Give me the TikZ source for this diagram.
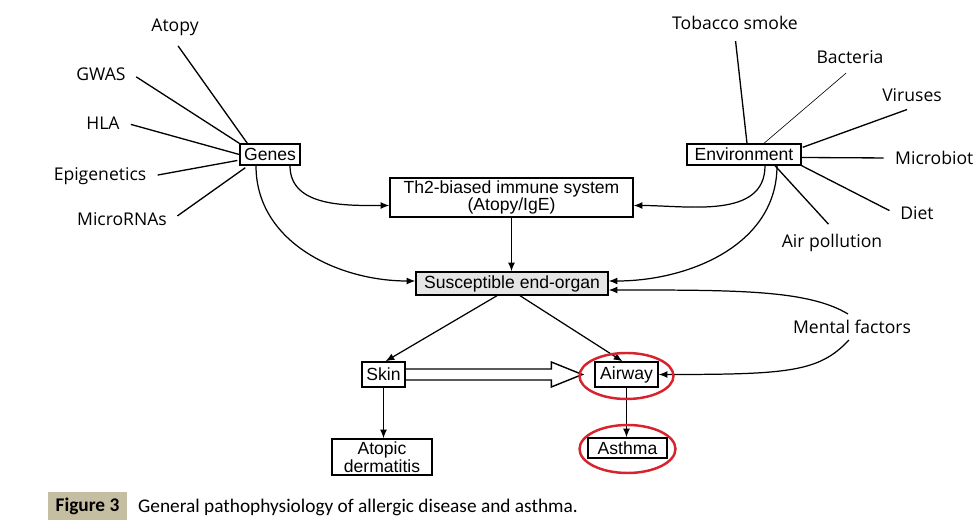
\documentclass[tikz,border=0pt]{standalone}
\usepackage{fontspec}
\setmainfont{Open Sans}
\newfontfamily\boxfont{Liberation Sans}
\newfontfamily\capfont{Carlito}
\usetikzlibrary{arrows.meta,calc}
\definecolor{captan}{RGB}{198,190,162}
\definecolor{ringred}{RGB}{214,35,45}

\begin{document}
\begin{tikzpicture}[x=0.02cm,y=-0.02cm]

	\tikzset{factor/.style={font=\fontsize{10}{12}\selectfont},
		block/.style={draw,line width=0.8pt,inner sep=0pt,align=center,
			font=\boxfont\fontsize{10}{10}\selectfont},
		leaf/.style={line width=0.75pt,shorten <=3pt},
		arr/.style={line width=0.7pt,-{Latex[length=5pt,width=4pt]}},
		redring/.style={draw=ringred,line width=1.4pt}}
	\useasboundingbox (0,0) rectangle (974,526);

	% boxes
	\node[block,minimum width=1.2cm,minimum height=0.42cm] (genes) at (270,154.5) {Genes};
	\node[block,minimum width=2.28cm,minimum height=0.42cm] (env) at (744,154.5) {Environment};
	\node[block,minimum width=4.86cm,minimum height=0.78cm] (th2) at (511.5,197.5) {Th2-biased immune system\\(Atopy/IgE)};
	\node[block,fill=gray!20,minimum width=3.84cm,minimum height=0.46cm] (susc) at (512,283.5) {Susceptible end-organ};
	\node[block,minimum width=0.86cm,minimum height=0.5cm] (skin) at (383.5,374.5) {Skin};
	\node[block,minimum width=1.26cm,minimum height=0.5cm] (airway) at (626.5,374.5) {Airway};
	\node[block,minimum width=2cm,minimum height=0.72cm] (atopicd) at (382,457) {Atopic\\dermatitis};
	\node[block,minimum width=1.58cm,minimum height=0.4cm] (asthma) at (627.5,448) {Asthma};

	% genetic factors
	\node[factor] (atopy) at (175,27) {Atopy};
	\node[factor] (gwas) at (101,74) {GWAS};
	\node[factor] (hla) at (103,123) {HLA};
	\node[factor] (epigen) at (100,176) {Epigenetics};
	\node[factor] (mirna) at (122,219) {MicroRNAs};
	\draw[leaf] (atopy.south) -- ($(genes.north west)+(8,0)$);
	\draw[leaf] (gwas.east) -- (genes.north west);
	\draw[leaf] (hla.east) -- (genes.west);
	\draw[leaf] (epigen.east) -- ($(genes.west)+(-2,6)$);
	\draw[leaf] (mirna.east) -- ($(genes.south west)+(6,2)$);

	% environmental factors
	\node[factor] (tobacco) at (735,23) {Tobacco smoke};
	\node[factor] (bacteria) at (850,57) {Bacteria};
	\node[factor] (viruses) at (912,95) {Viruses};
	\node[factor,anchor=west] (microbiota) at (889,158) {Microbiot};
	\node[factor] (diet) at (917,213) {Diet};
	\node[factor] (airpol) at (832,243) {Air pollution};
	\draw[leaf] (tobacco.south) -- ($(env.north)+(3,0)$);
	\draw[leaf,line width=0.35pt] (bacteria.south) -- ($(env.north)+(20,0)$);
	\draw[leaf] (viruses.south) -- ($(env.north east)+(1,4)$);
	\draw[leaf] (microbiota.west) -- ($(env.east)+(0,3)$);
	\draw[leaf] (diet.west) -- (env.south east);
	\draw[leaf] (airpol.north) -- ($(env.south)+(31,0)$);

	% main flow
	\draw[arr] ($(genes.south)+(20,0)$) to[out=-90,in=180] ($(th2.west)+(0,8)$);
	\draw[arr] ($(genes.south)+(-14,0)$) to[out=-90,in=180] ($(susc.west)+(0,-2.5)$);
	\draw[arr] ($(env.south)+(21,0)$) to[out=-90,in=0] ($(th2.east)+(0,8)$);
	\draw[arr] ($(env.south)+(33,0)$) to[out=-90,in=0] ($(susc.east)+(0,-2.5)$);
	\draw[arr] (th2.south) -- (th2.south |- susc.north);
	\draw[arr] ($(susc.south)+(-15,0)$) -- ($(skin.north)+(2,0)$);
	\draw[arr] ($(susc.south)+(8,0)$) -- ($(airway.north)+(-4,0)$);
	\draw[arr] (skin.south) -- (skin.south |- atopicd.north);
	\draw[arr] (airway.south) -- (airway.south |- asthma.north);

	% mental factors
	\node[factor] (mental) at (852,327) {Mental factors};
	\draw[arr] ($(mental.north)+(-4,0)$) .. controls +(-40,-24) and +(130,0) .. ($(susc.east)+(0,6.5)$);
	\draw[arr] ($(mental.south)+(-3,0)$) .. controls +(-30,32) and +(130,0) .. (airway.east);

	% hollow arrow skin -> airway
	\coordinate (tip) at ($(airway.west)+(-12,0)$);
	\draw[line width=0.8pt,line join=miter] ($(skin.east)+(0,-5.5)$) -- ($(tip)+(-31,-5.5)$)
		-- ($(tip)+(-31,-12.5)$) -- (tip) -- ($(tip)+(-31,12.5)$)
		-- ($(tip)+(-31,5.5)$) -- ($(skin.east)+(0,5.5)$);

	\draw[redring] ($(airway)+(0,1.5)$) ellipse [x radius=0.94cm, y radius=0.46cm];
	\draw[redring] ($(asthma)+(0,1)$) ellipse [x radius=0.96cm, y radius=0.48cm];

	% caption
	\fill[captan] (48,492) rectangle (127,520);
	\node[font=\capfont\bfseries\fontsize{11}{13}\selectfont] (fignum) at (87.5,506) {Figure 3};
	\node[font=\capfont\fontsize{11}{13}\selectfont,anchor=west] (caption) at (132,507) {General pathophysiology of allergic disease and asthma.};

\end{tikzpicture}
\end{document}
